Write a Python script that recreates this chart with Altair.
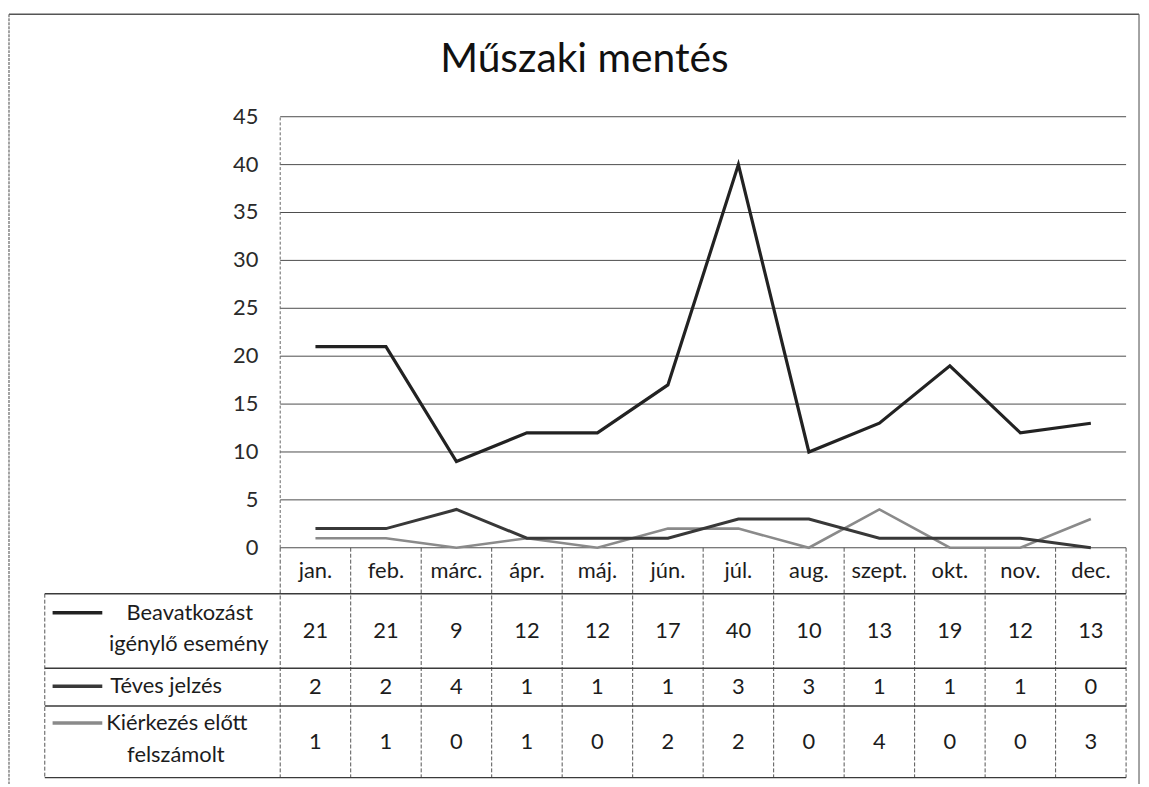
import altair as alt
import pandas as pd

# ---------------- data ----------------
months = ["jan.", "feb.", "márc.", "ápr.", "máj.", "jún.", "júl.", "aug.", "szept.", "okt.", "nov.", "dec."]
series_names = ["Beavatkozást igénylő esemény", "Téves jelzés", "Kiérkezés előtt felszámolt"]
beavatkozast = [21, 21, 9, 12, 12, 17, 40, 10, 13, 19, 12, 13]
teves_jelzes = [2, 2, 4, 1, 1, 1, 3, 3, 1, 1, 1, 0]
kierkezes_elott = [1, 1, 0, 1, 0, 2, 2, 0, 4, 0, 0, 3]
y_ticks = [0, 5, 10, 15, 20, 25, 30, 35, 40, 45]
title_text = "Műszaki mentés"
row_label_lines = [["Beavatkozást", "igénylő esemény"], ["Téves jelzés"], ["Kiérkezés előtt", "felszámolt"]]

# ---------------- layout ----------------
W, H = 1088, 665
XDOM = [-3.34, 12]
YDOM = [-24, 45]
ROW_EDGES = [0, -4.8, -12.58, -16.52, -24]
MONTH_ROW_Y = -2.4
ROW_CENTERS = [-8.69, -14.55, -20.26]
LABEL_POS = [[(-1.283, -6.78), (-1.297, -10.0)], [(-1.62, -14.46)], [(-1.466, -18.3), (-1.48, -21.6)]]
KEY_X = (-3.229, -2.524)
KEY_Y = [-6.78, -14.46, -18.3]
COLORS = ["#222222", "#383838", "#8a8a8a"]
WIDTHS = [3.2, 3.0, 2.6]
FONT = "Lato"
TXT = "#1c1c1c"

xs = alt.Scale(domain=XDOM, nice=False, zero=False)
ys = alt.Scale(domain=YDOM, nice=False, zero=False)


def X(f="x"):
    return alt.X(f"{f}:Q", scale=xs, axis=None)


def Y(f="y"):
    return alt.Y(f"{f}:Q", scale=ys, axis=None)


all_series = [beavatkozast, teves_jelzes, kierkezes_elott]

# line data
line_rows = []
for s, vals in zip(series_names, all_series):
    for i, v in enumerate(vals):
        line_rows.append({"series": s, "x": i + 0.5, "y": v, "order": i})
line_df = pd.DataFrame(line_rows)

layers = []

# gridlines
grid_df = pd.DataFrame({"y": y_ticks, "x": 0, "x2": 12})
layers.append(alt.Chart(grid_df).mark_rule(color="#4d4d4d", strokeWidth=1).encode(
    x=X(), x2="x2:Q", y=Y()))

# y tick labels
layers.append(alt.Chart(pd.DataFrame({"y": y_ticks, "x": 0, "t": [str(t) for t in y_ticks]}))
              .mark_text(align="right", baseline="middle", dx=-22, font=FONT, fontSize=22, color="#2a2a2a")
              .encode(x=X(), y=Y(), text="t:N"))

# table vertical lines (month separators incl. y-axis and right border)
vdf = pd.DataFrame({"x": list(range(0, 13)), "y": [ROW_EDGES[0]] * 13, "y2": [ROW_EDGES[-1]] * 13})
layers.append(alt.Chart(vdf).mark_rule(color="#555555", strokeWidth=1, strokeDash=[4, 2]).encode(
    x=X(), y=Y(), y2="y2:Q"))
# y-axis line in plot area
layers.append(alt.Chart(pd.DataFrame({"x": [0], "y": [0], "y2": [45]})).mark_rule(
    color="#666666", strokeWidth=1, strokeDash=[3, 2]).encode(x=X(), y=Y(), y2="y2:Q"))
# left border of the label column
layers.append(alt.Chart(pd.DataFrame({"x": [XDOM[0]], "y": [ROW_EDGES[1]], "y2": [ROW_EDGES[-1]]})).mark_rule(
    color="#555555", strokeWidth=1, strokeDash=[4, 2]).encode(x=X(), y=Y(), y2="y2:Q"))
# horizontal table lines
hdf = pd.DataFrame({"y": ROW_EDGES[1:], "x": XDOM[0], "x2": 12})
layers.append(alt.Chart(hdf).mark_rule(color="#3a3a3a", strokeWidth=1.3).encode(
    x=X(), x2="x2:Q", y=Y()))

# month labels
mdf = pd.DataFrame({"x": [i + 0.5 for i in range(12)], "y": MONTH_ROW_Y, "t": months})
layers.append(alt.Chart(mdf).mark_text(align="center", baseline="middle", font=FONT, fontSize=22, color=TXT)
              .encode(x=X(), y=Y(), text="t:N"))

# table numbers
num_rows = []
for r, vals in enumerate(all_series):
    for i, v in enumerate(vals):
        num_rows.append({"x": i + 0.5, "y": ROW_CENTERS[r], "t": str(v)})
layers.append(alt.Chart(pd.DataFrame(num_rows)).mark_text(align="center", baseline="middle", font=FONT,
                                                           fontSize=22, color=TXT)
              .encode(x=X(), y=Y(), text="t:N"))

# row labels
lab_rows = []
for r, lines in enumerate(row_label_lines):
    for j, ln in enumerate(lines):
        lab_rows.append({"x": LABEL_POS[r][j][0], "y": LABEL_POS[r][j][1], "t": ln})
layers.append(alt.Chart(pd.DataFrame(lab_rows)).mark_text(align="center", baseline="middle", font=FONT,
                                                          fontSize=22, color=TXT)
              .encode(x=X(), y=Y(), text="t:N"))

# legend keys in the table
key_df = pd.DataFrame({"series": series_names, "x": KEY_X[0], "x2": KEY_X[1], "y": KEY_Y})
layers.append(alt.Chart(key_df).mark_rule(strokeWidth=3.5).encode(
    x=X(), x2="x2:Q", y=Y(),
    color=alt.Color("series:N", scale=alt.Scale(domain=series_names, range=COLORS), legend=None)))

# series lines
for s, c, w in zip(series_names[::-1], COLORS[::-1], WIDTHS[::-1]):
    layers.append(alt.Chart(line_df[line_df.series == s]).mark_line(color=c, strokeWidth=w, strokeJoin="miter")
                  .encode(x=X(), y=Y(), order="order:Q"))

# title
layers.append(alt.Chart(pd.DataFrame({"t": [title_text]})).mark_text(
    align="center", baseline="alphabetic", font=FONT, fontSize=41, color="#111111")
    .encode(x=alt.value(543), y=alt.value(-45), text="t:N"))

# outer chart frame (decoration)
frame = pd.DataFrame({"k": [0]})
layers.append(alt.Chart(frame).mark_rule(color="#555555", strokeWidth=1.5).encode(
    x=alt.value(-36), x2=alt.value(1101), y=alt.value(-103)))
layers.append(alt.Chart(frame).mark_rule(color="#666666", strokeWidth=1.2, strokeDash=[3, 1]).encode(
    x=alt.value(-36), y=alt.value(-103), y2=alt.value(672)))
layers.append(alt.Chart(frame).mark_rule(color="#666666", strokeWidth=1.2).encode(
    x=alt.value(1101), y=alt.value(-103), y2=alt.value(672)))

chart = alt.layer(*layers).properties(
    width=W, height=H,
    background="white",
    autosize=alt.AutoSizeParams(type="none"),
    padding={"left": 37, "top": 107, "right": 15, "bottom": 4},
).configure_view(strokeWidth=0, stroke=None)

chart.save("out.html", embed_options={"renderer": "svg", "actions": False})
